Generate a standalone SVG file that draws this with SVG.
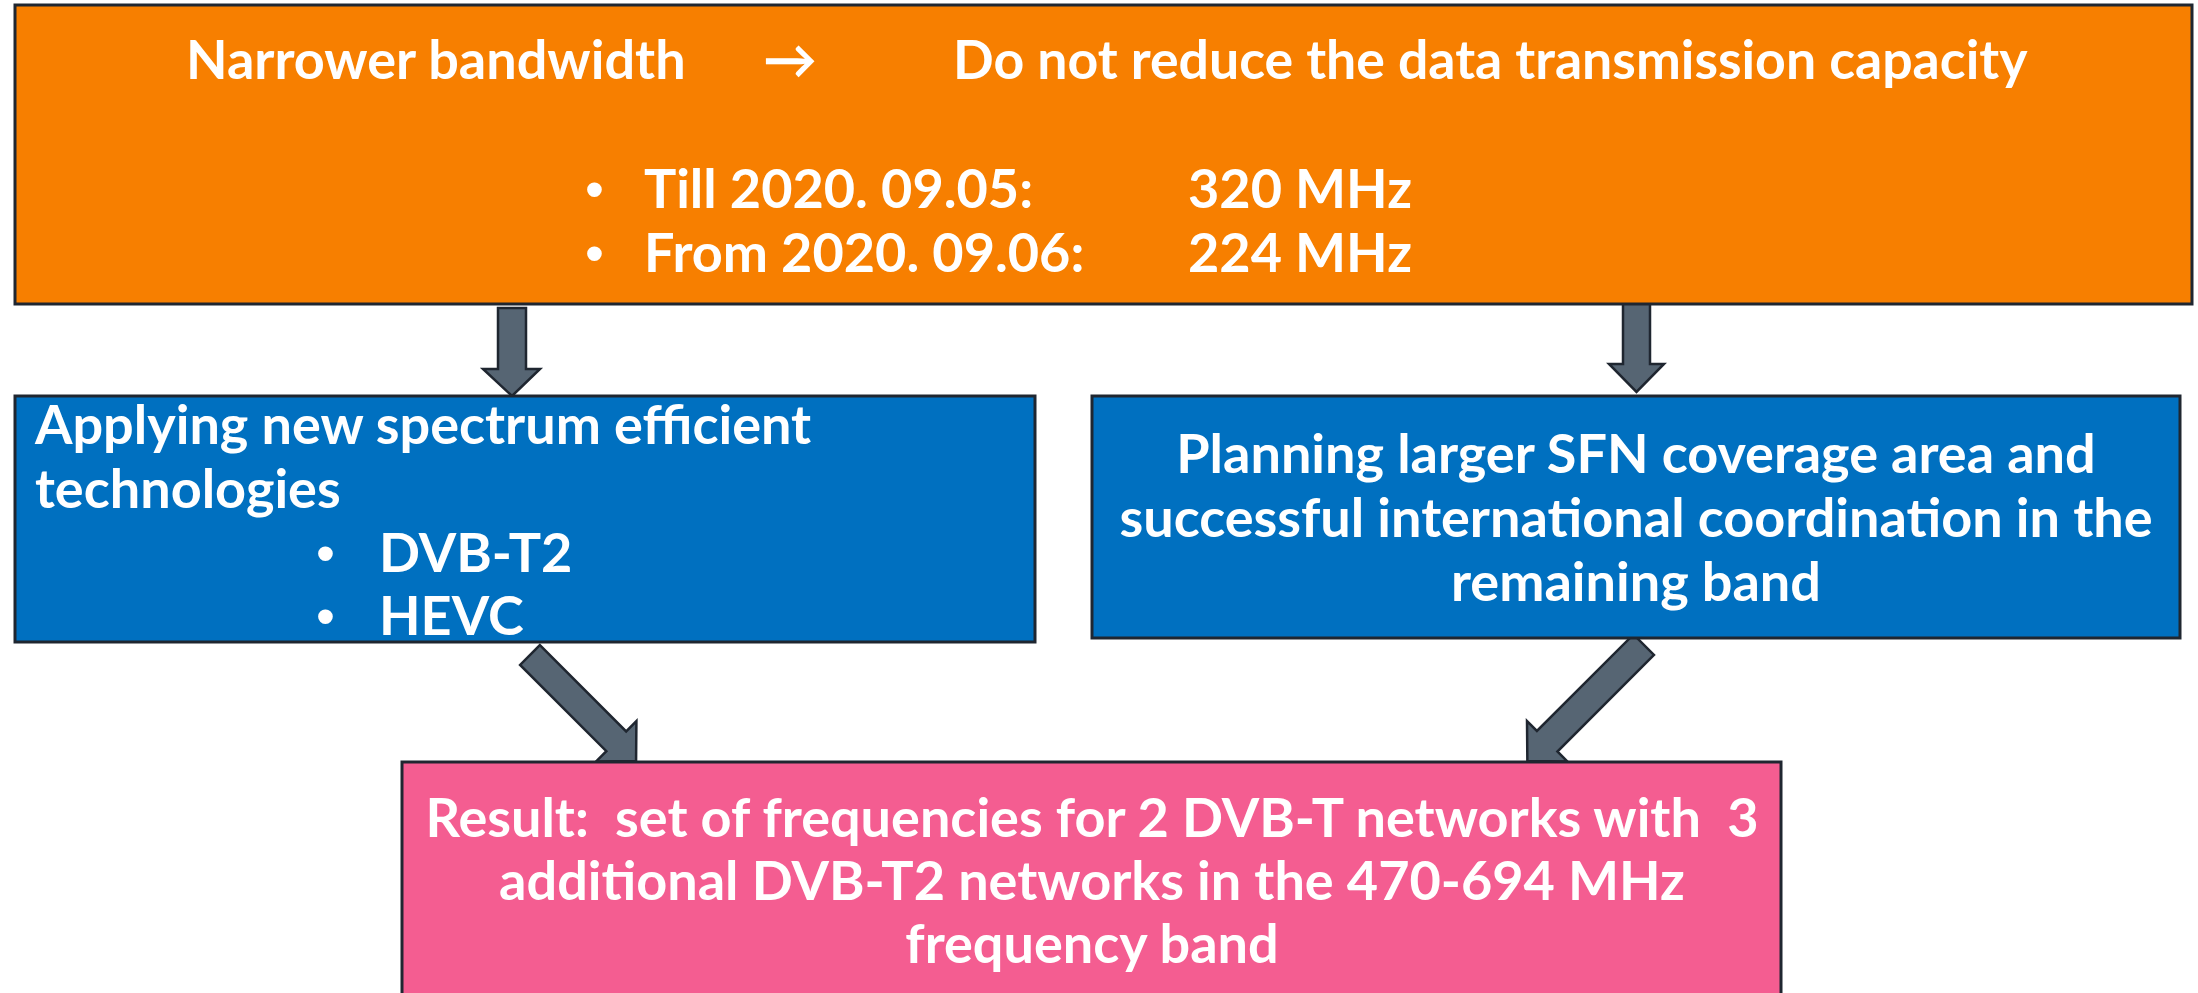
<svg xmlns="http://www.w3.org/2000/svg" width="2198" height="993" viewBox="0 0 2198 993">
<style>
.box{stroke:#1f2630;stroke-width:3}
.t{font-family:Lato,"DejaVu Sans","Liberation Sans",sans-serif;font-weight:bold;font-size:54px;fill:#ffffff;white-space:pre}
.b{font-family:"Liberation Sans",Arial,sans-serif;font-size:54px;fill:#ffffff}
.c{text-anchor:middle}
.arr{fill:#566573;stroke:#1f2630;stroke-width:2.5;stroke-linejoin:miter}
</style>
<rect width="2198" height="993" fill="#ffffff"/>
<g id="connectors">
<polygon class="arr" points="498,308 526,308 526,369 540,369 512,396 483,369 498,369"/>
<polygon class="arr" points="1623,303 1650,303 1650,364 1664,364 1636.5,392 1609,364 1623,364"/>
<polygon class="arr" transform="translate(530,655) rotate(45)" points="0,-14 122,-14 122,-28.5 150,0 122,28.5 122,14 0,14"/>
<polygon class="arr" transform="translate(1643.75,644.65) rotate(135)" points="0,-14.5 136.6,-14.5 136.6,-28.5 164.6,0 136.6,28.5 136.6,14.5 0,14.5"/>
</g>
<g id="top">
<rect class="box" x="15" y="5" width="2177" height="299" fill="#f77f00"/>
<text class="t" x="186" y="79">Narrower bandwidth</text>
<text class="t" x="763" y="79">→</text>
<text class="t" x="953" y="79" style="font-size:53.6px">Do not reduce the data transmission capacity</text>
<text class="b" x="585" y="208">•</text>
<text class="t" x="644" y="208">Till 2020. 09.05:</text>
<text class="t" x="1188" y="208">320 MHz</text>
<text class="b" x="585" y="272">•</text>
<text class="t" x="644" y="272">From 2020. 09.06:</text>
<text class="t" x="1188" y="272">224 MHz</text>
</g>
<g id="left">
<rect class="box" x="15" y="396" width="1020" height="246" fill="#0070c0"/>
<text class="t" x="35" y="444">Applying new spectrum efficient</text>
<text class="t" x="35" y="508">technologies</text>
<text class="b" x="316" y="572">•</text>
<text class="t" x="379" y="572">DVB-T2</text>
<text class="b" x="316" y="635">•</text>
<text class="t" x="379" y="635">HEVC</text>
</g>
<g id="right">
<rect class="box" x="1092" y="396" width="1088" height="242" fill="#0070c0"/>
<text class="t c" x="1636" y="473">Planning larger SFN coverage area and</text>
<text class="t c" x="1636" y="537">successful international coordination in the</text>
<text class="t c" x="1636" y="601">remaining band</text>
</g>
<g id="result">
<rect class="box" x="402" y="762" width="1379" height="245" fill="#f45d91"/>
<text class="t c" x="1092" y="837">Result:  set of frequencies for 2 DVB-T networks with  3</text>
<text class="t c" x="1092" y="900">additional DVB-T2 networks in the 470-694 MHz</text>
<text class="t c" x="1092" y="963">frequency band</text>
</g>
</svg>
